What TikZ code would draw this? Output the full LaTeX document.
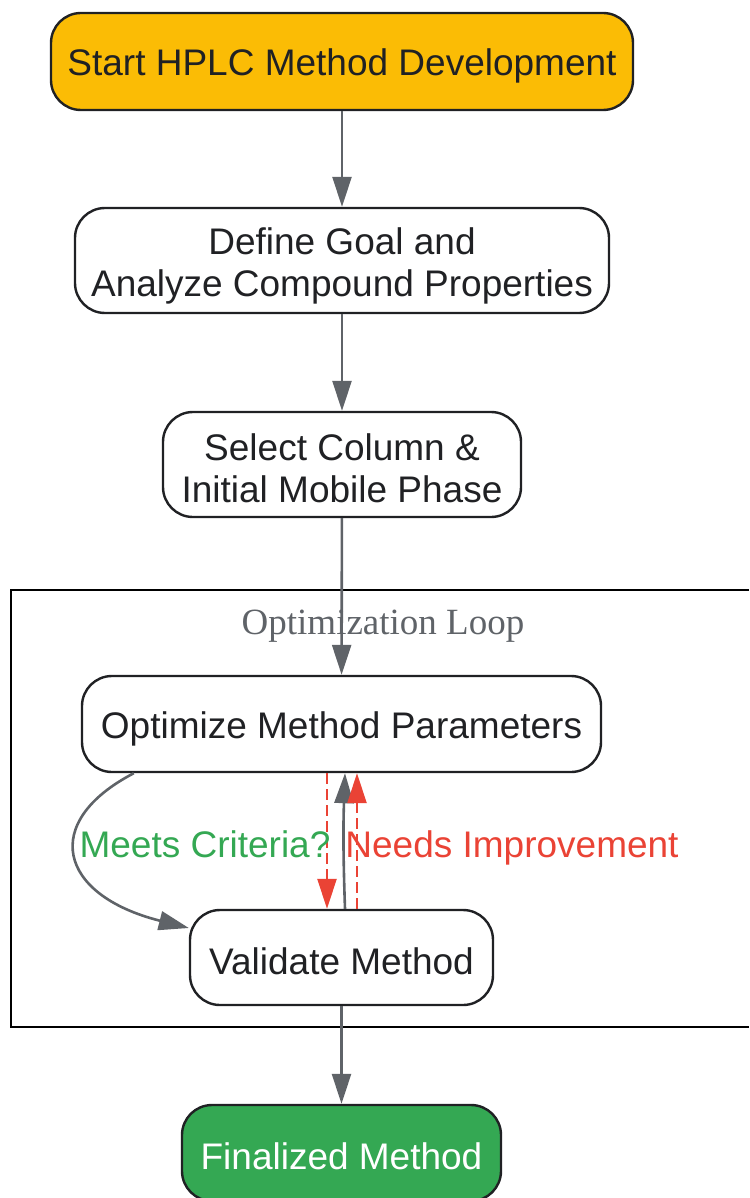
\documentclass[tikz,border=0pt]{standalone}
\usepackage{fontspec}
\setmainfont{Liberation Sans}
\newfontfamily\clusterface{Liberation Serif}
\usetikzlibrary{arrows.meta}
\definecolor{gyellow}{HTML}{FBBC05}
\definecolor{ggreen}{HTML}{34A853}
\definecolor{gred}{HTML}{EA4335}
\definecolor{ggray}{HTML}{5F6368}
\definecolor{gdark}{HTML}{202124}
\begin{document}
\begin{tikzpicture}[x=1pt,y=-1pt,
  box/.style={draw=gdark, line width=2.4pt, rounded corners=30pt, inner sep=0pt, fill=white},
  txt/.style={align=center, font=\fontsize{37}{42}\selectfont, text=gdark, inner sep=0pt},
  edge/.style={draw=ggray, line width=2.6pt, -{Triangle[length=30pt,width=19pt]}},
  rededge/.style={draw=gred, line width=2.5pt, dash pattern=on 11pt off 5pt,
    -{Triangle[length=30pt,width=19pt,fill=gred]}},
  lbl/.style={font=\fontsize{37}{42}\selectfont, inner sep=0pt, anchor=base}]
\useasboundingbox (0,0) rectangle (749,1198);
% cluster
\draw[line width=2.4pt, black] (749,590) -- (11,590) -- (11,1027) -- (749,1027);
\node[txt, font=\clusterface\fontsize{37}{42}\selectfont, text=ggray] (cl) at (383,626) {Optimization Loop};
% nodes
\node[box, fill=gyellow, minimum width=582pt, minimum height=97pt] (start) at (342,61.5) {};
\node[txt] (startT) at ([yshift=-4pt]start.center) {Start HPLC Method Development};
\node[box, minimum width=534pt, minimum height=105pt] (define) at (342,260.5) {};
\node[txt] (defineT) at ([yshift=-5pt]define.center) {Define Goal and\\Analyze Compound Properties};
\node[box, minimum width=358pt, minimum height=105pt] (select) at (342,464.5) {};
\node[txt] (selectT) at ([yshift=-4pt]select.center) {Select Column \&\\Initial Mobile Phase};
\node[box, minimum width=519pt, minimum height=96pt] (opt) at (341.5,724) {};
\node[txt] (optT) at ([yshift=-5pt]opt.center) {Optimize Method Parameters};
\node[box, minimum width=303pt, minimum height=95pt] (val) at (341.5,957.5) {};
\node[txt] (valT) at ([yshift=-3.5pt]val.center) {Validate Method};
\node[box, fill=ggreen, minimum width=319pt, minimum height=96pt] (fin) at (341.5,1153) {};
\node[txt, text=white] (finT) at ([yshift=-3.5pt]fin.center) {Finalized Method};
% edges
\draw[edge] (start) -- (define);
\draw[edge] (define) -- (select);
\draw[edge] (select) -- (opt);
\draw[edge] (val) -- (fin);
\draw[edge] ([xshift=53pt]opt.south west) .. controls (40,822) and (58,895) .. ([yshift=29.5pt]val.west);
\draw[rededge] ([xshift=-14.5pt]opt.south) -- ([xshift=-14.5pt]val.north);
\draw[edge] ([xshift=3.5pt]val.north) to[bend left=2] ([xshift=3.5pt]opt.south);
\draw[rededge] ([xshift=15.5pt]val.north) -- ([xshift=15.5pt]opt.south);
% labels
\node[lbl, text=ggreen] (meets) at (205,857) {Meets Criteria?};
\node[lbl, text=gred] (needs) at (512,857) {Needs Improvement};
\end{tikzpicture}
\end{document}
